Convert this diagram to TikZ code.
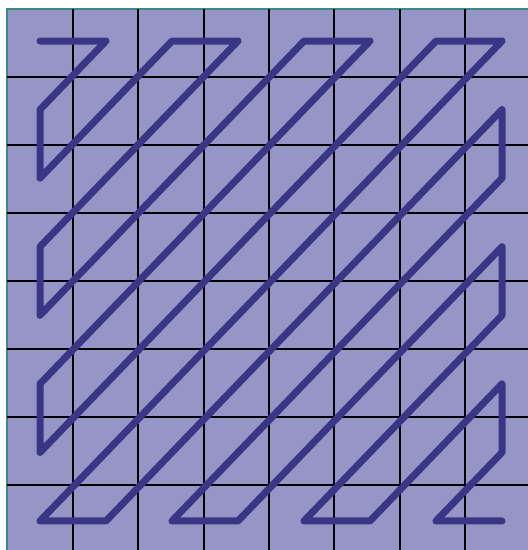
\documentclass[tikz,border=0pt]{standalone}
\definecolor{cellfill}{RGB}{150,150,198}
\definecolor{zigzag}{RGB}{58,54,134}
\definecolor{frameteal}{RGB}{58,140,130}
\tikzset{
  gridline/.style={black, line width=1.8pt},
  zigline/.style={zigzag, line width=7pt, line cap=round, line join=round},
  frame/.style={draw=frameteal, fill=cellfill, line width=2.5pt}
}
\begin{document}
\begin{tikzpicture}[x=1pt,y=-1pt]
\useasboundingbox (0,0) rectangle (528,550);
\clip (0,0) rectangle (528,550);
\fill[white] (0,0) rectangle (528,550);
\path[frame] (7,9) rectangle (545,570);
\foreach \k in {1,...,7} {
  \draw[gridline] ({7.7+65.33*\k},9) -- ({7.7+65.33*\k},570);
  \draw[gridline] (7,{9+68*\k}) -- (545,{9+68*\k});
}
\foreach \c in {0,...,7} {
  \foreach \r in {0,...,7} {
    \coordinate (p\c\r) at ({40+66*\c},{41+68.57*\r});
  }
}
\draw[zigline]
  (p00) -- (p10) -- (p01) -- (p02) -- (p20) -- (p30) -- (p03) -- (p04)
  -- (p40) -- (p50) -- (p05) -- (p06) -- (p60) -- (p70) -- (p07) -- (p17)
  -- (p71) -- (p72) -- (p27) -- (p37) -- (p73) -- (p74) -- (p47) -- (p57)
  -- (p75) -- (p76) -- (p67) -- (p77);
\end{tikzpicture}
\end{document}
